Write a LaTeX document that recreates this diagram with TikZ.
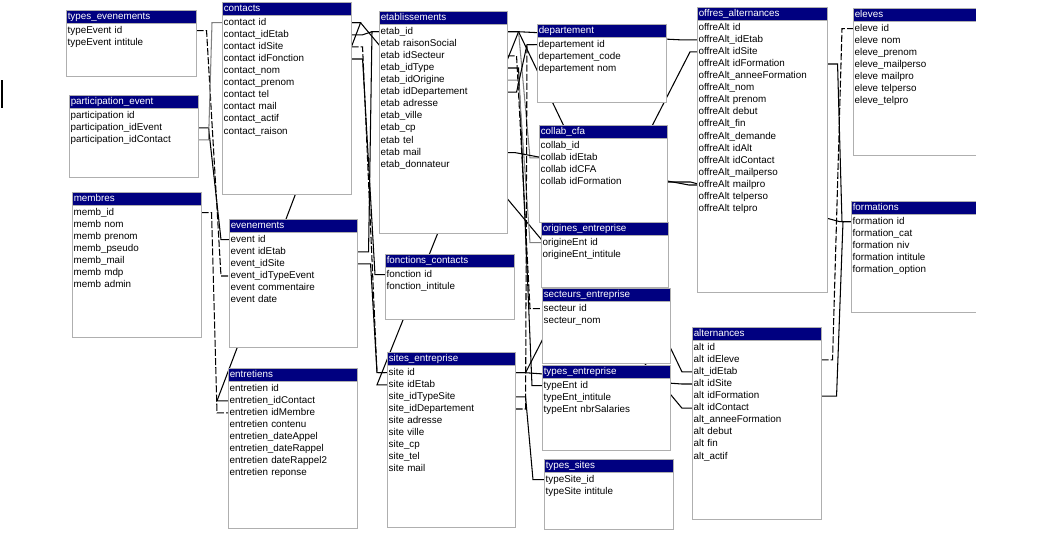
\documentclass[tikz,border=0pt]{standalone}
\usepackage{fontspec}
\setmainfont{Liberation Sans}
\usetikzlibrary{positioning,calc,backgrounds}

\definecolor{marine}{RGB}{0,0,128}
\definecolor{bordure}{RGB}{175,175,175}
\newcommand{\policetable}{\fontsize{7pt}{8pt}\selectfont}

\tikzset{
  corps/.style={draw=bordure, fill=white, line width=0.7pt, inner sep=0pt, anchor=north west},
  entete/.style={fill=marine, draw=bordure, line width=0.5pt, text=white, font=\policetable,
    inner xsep=1pt, inner ysep=0pt, minimum height=0.3125cm, align=left, anchor=north west,
    text height=5pt, text depth=1.5pt},
  ligne/.style={font=\policetable, inner xsep=1pt, inner ysep=0pt, align=left, anchor=west,
    text height=5pt, text depth=1.5pt},
  trait/.style={line width=0.75pt, black},
  pointille/.style={dash pattern=on 5pt off 1.5pt},
  lien/.style 2 args={to path={-- ++(#1,0) -- ($(\tikztotarget)+(#2,0)$) -- (\tikztotarget)}}
}

% table: name, x, y, width, height, title, fields
\newcommand{\tableau}[7]{%
  \pgfmathsetlengthmacro{\largeur}{#4*0.025cm}%
  \pgfmathsetlengthmacro{\largeurtexte}{#4*0.025cm-2pt}%
  \pgfmathsetlengthmacro{\hauteur}{#5*0.025cm}%
  \node[corps, minimum width=\largeur, minimum height=\hauteur] (#1) at (#2,#3) {};
  \node[entete, text width=\largeurtexte] (#1-titre) at (#1.north west) {#6};
  \foreach \champ [count=\i] in {#7}
    \node[ligne, text width=\largeurtexte] (#1-\i)
      at ($(#1-titre.south west)+(0,{7.5+12.1*(\i-1)})$) {\champ};
}

\begin{document}
\begin{tikzpicture}[x=0.025cm, y=-0.025cm]
  \useasboundingbox (0,0) rectangle (1042,542);
  \draw[trait] (2,80) -- (2,108);

  % Tables
  \tableau{te}{66}{10}{130}{66}{types\_evenements}
    {typeEvent id, typeEvent intitule}
  \tableau{pe}{69}{95}{129}{82}{participation\_event}
    {participation id, participation\_idEvent, participation\_idContact}
  \tableau{me}{72}{192}{129}{145}{membres}
    {memb\_id, memb nom, memb prenom, memb\_pseudo, memb\_mail, memb mdp, memb admin}
  \tableau{co}{222}{2}{129}{192}{contacts}
    {contact id, contact\_idEtab, contact idSite, contact idFonction, contact\_nom,
     contact\_prenom, contact tel, contact mail, contact\_actif, contact\_raison}
  \tableau{ev}{229}{219}{128}{128}{evenements}
    {event id, event idEtab, event\_idSite, event\_idTypeEvent, event commentaire, event date}
  \tableau{en}{228}{368}{129}{160}{entretiens}
    {entretien id, entretien\_idContact, entretien idMembre, entretien contenu,
     entretien\_dateAppel, entretien\_dateRappel, entretien dateRappel2, entretien reponse}
  \tableau{et}{379}{11}{128}{222}{etablissements}
    {etab\_id, etab raisonSocial, etab idSecteur, etab\_idType, etab\_idOrigine,
     etab idDepartement, etab adresse, etab\_ville, etab\_cp, etab tel, etab mail, etab\_donnateur}
  \tableau{fc}{385}{254}{129}{65}{fonctions\_contacts}
    {fonction id, fonction\_intitule}
  \tableau{si}{387}{352}{128}{175}{sites\_entreprise}
    {site id, site idEtab, site\_idTypeSite, site\_idDepartement, site adresse,
     site ville, site\_cp, site\_tel, site mail}
  \tableau{dp}{537}{24}{129}{78}{departement}
    {departement id, departement\_code, departement nom}
  \tableau{cf}{539}{125}{128}{97}{collab\_cfa}
    {collab\_id, collab idEtab, collab idCFA, collab idFormation}
  \tableau{orig}{541}{222}{127}{65}{origines\_entreprise}
    {origineEnt id, origineEnt\_intitule}
  \tableau{se}{542}{288}{128}{75}{secteurs\_entreprise}
    {secteur id, secteur\_nom}
  \tableau{ty}{542}{365}{128}{85}{types\_entreprise}
    {typeEnt id, typeEnt\_intitule, typeEnt nbrSalaries}
  \tableau{ts}{544}{459}{129}{70}{types\_sites}
    {typeSite\_id, typeSite intitule}
  \tableau{of}{697}{7}{130}{285}{offres\_alternances}
    {offreAlt id, offreAlt\_idEtab, offreAlt idSite, offreAlt idFormation,
     offreAlt\_anneeFormation, offreAlt\_nom, offreAlt prenom, offreAlt debut, offreAlt\_fin,
     offreAlt\_demande, offreAlt idAlt, offreAlt idContact, offreAlt\_mailperso,
     offreAlt mailpro, offreAlt telperso, offreAlt telpro}
  \tableau{al}{692}{327}{129}{192}{alternances}
    {alt id, alt idEleve, alt\_idEtab, alt idSite, alt idFormation, alt idContact,
     alt\_anneeFormation, alt debut, alt fin, alt\_actif}
  \tableau{el}{853}{8}{150}{147}{eleves}
    {eleve id, eleve nom, eleve\_prenom, eleve\_mailperso, eleve mailpro, eleve telperso, eleve\_telpro}
  \tableau{fo}{851}{201}{150}{111}{formations}
    {formation id, formation\_cat, formation niv, formation intitule, formation\_option}
  \fill[white] (976,0) rectangle (1042,542);

  % Draw relations
  \begin{pgfonlayer}{background}
    \draw[trait] (te-1.east) edge[lien={10}{-8}, pointille] (ev-4.west);
    \draw[trait] (pe-2.east) edge[lien={10}{-8}] (ev-1.west);
    \draw[trait] (pe-3.east) edge[lien={10}{-10}, gray] (co-1.west);
    \draw[trait] (me-1.east) edge[lien={10}{-11}, pointille] (en-3.west);
    \draw[trait] (en-2.west) edge[lien={-11}{9}] (co-1.east);
    \draw[trait] (co-1.east) edge[lien={9}{-10}] (al-6.west);
    \draw[trait] (co-2.east) edge[lien={11}{-7}] (et-1.west);
    \draw[trait] (co-3.east) edge[lien={11}{-10}, pointille] (si-1.west);
    \draw[trait] (co-4.east) edge[lien={11}{-10}] (fc-1.west);
    \draw[trait] (ev-2.east) edge[lien={11}{-7}] (et-1.west);
    \draw[trait] (ev-3.east) edge[lien={13}{-10}] (si-1.west);
    \draw[trait] (si-2.west) edge[lien={-10}{11}] (et-1.east);
    \draw[trait] (et-1.east) edge[lien={11}{-17}] (of-2.west);
    \draw[trait] (et-1.east) edge[lien={11}{-9}, gray] (cf-2.west);
    \draw[trait] (et-1.east) edge[lien={11}{-10}] (al-3.west);
    \draw[trait] (et-3.east) edge[lien={9}{-12}, pointille] (se-1.west);
    \draw[trait] (et-4.east) edge[lien={11}{-10}] (ty-1.west);
    \draw[trait] (et-5.east) edge[lien={11}{-11}, gray] (orig-1.west);
    \draw[trait] (et-6.east) edge[lien={9}{-10}] (dp-1.west);
    \draw[trait] (et-11.east) edge[lien={8}{-8}] (of-14.west);
    \draw[trait] (si-1.east) edge[lien={10}{-10}] (al-4.west);
    \draw[trait] (si-1.east) edge[lien={10}{-7}] (of-3.west);
    \draw[trait] (si-3.east) edge[lien={10}{-11}] (ts-1.west);
    \draw[trait] (si-4.east) edge[lien={10}{-10}, pointille] (dp-1.west);
    \draw[trait] (cf-4.east) edge[lien={23}{-11}] (fo-1.west);
    \draw[trait] (of-4.east) edge[lien={10}{-9}] (fo-1.west);
    \draw[trait] (al-2.east) edge[lien={11}{-11}, pointille] (el-1.west);
    \draw[trait] (al-5.east) edge[lien={15}{-8}] (fo-1.west);
  \end{pgfonlayer}
\end{tikzpicture}
\end{document}
